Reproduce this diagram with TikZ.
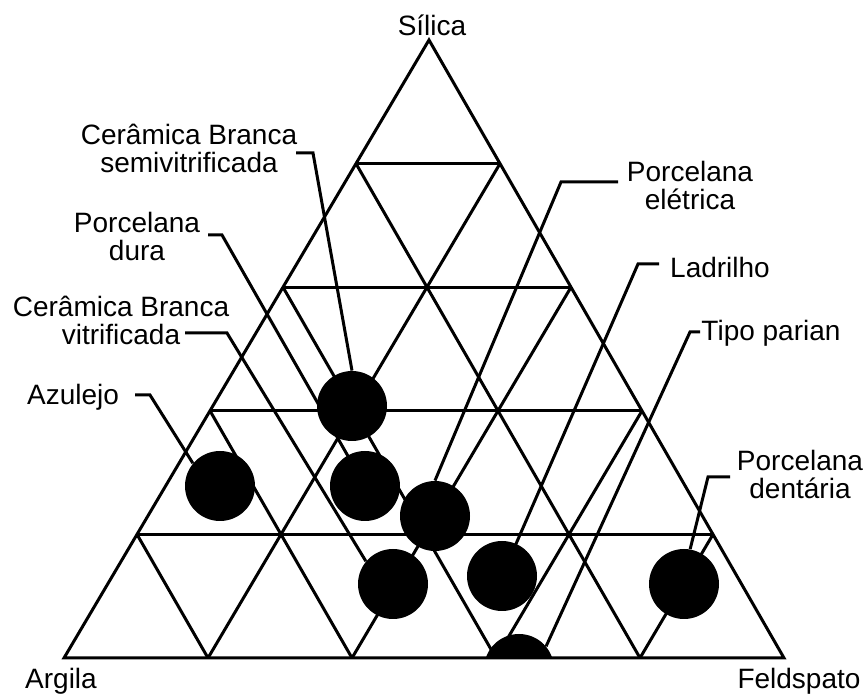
\documentclass[tikz,border=0pt]{standalone}
\usepackage{fontspec}
\setmainfont{Liberation Sans}
\begin{document}
\begin{tikzpicture}[x=0.5pt,y=-0.5pt,
  grid/.style={line width=1.5pt},
  leader/.style={line width=1.5pt},
  dot/.style={circle,fill=black,minimum size=35pt,inner sep=0pt},
  lbl/.style={align=center,inner sep=0pt,font=\fontsize{14}{14}\selectfont}]
\useasboundingbox (0,0) rectangle (868,699);

% corners of the diagram
\coordinate (a) at (64,658);
\coordinate (b) at (784,658);
\coordinate (c) at (429,40);

% points on the sides
\coordinate (l1) at (137,534.4);
\coordinate (l2) at (210,410.8);
\coordinate (l3) at (283,287.2);
\coordinate (l4) at (356,163.6);
\coordinate (r1) at (713,534.4);
\coordinate (r2) at (642,410.8);
\coordinate (r3) at (571,287.2);
\coordinate (r4) at (500,163.6);
\coordinate (b1) at (208,658);
\coordinate (b2) at (352,658);
\coordinate (b3) at (496,658);
\coordinate (b4) at (640,658);

\draw[grid] (a) -- (b) -- (c) -- cycle;

\draw[grid] (l1) -- (r1);
\draw[grid] (l2) -- (r2);
\draw[grid] (l3) -- (r3);
\draw[grid] (l4) -- (r4);

\draw[grid] (l1) -- (b1);
\draw[grid] (l2) -- (b2);
\draw[grid] (l3) -- (b3);
\draw[grid] (l4) -- (b4);

\draw[grid] (r1) -- (b4);
\draw[grid] (r2) -- (b3);
\draw[grid] (r3) -- (b2);
\draw[grid] (r4) -- (b1);

% corner labels
\node[lbl] (silica) at (432,25) {Sílica};
\node[lbl] (argila) at (61,681) {Argila};
\node[lbl] (feldspato) at (799,681) {Feldspato};

% compositions
\node[dot] (semi) at (352,406) {};
\node[dot] (azulejo) at (220,486) {};
\node[dot] (dura) at (365,486) {};
\node[dot] (eletrica) at (435,516) {};
\node[dot] (vitri) at (393,584) {};
\node[dot] (ladrilho) at (502,576) {};
\node[dot] (dentaria) at (684,584) {};
\begin{scope}
\clip (0,0) rectangle (868,658);
\node[dot] (parian) at (519,669) {};
\end{scope}

\node[lbl] (lsemi) at (189,148) {Cerâmica Branca\\semivitrificada};
\node[lbl] (ldura) at (137,236) {Porcelana\\dura};
\node[lbl] (lvitri) at (121,320) {Cerâmica Branca\\vitrificada};
\node[lbl] (lazulejo) at (73,397) {Azulejo};
\node[lbl] (leletrica) at (690,185) {Porcelana\\elétrica};
\node[lbl] (lladrilho) at (720,267) {Ladrilho};
\node[lbl] (lparian) at (771,333) {Tipo parian};
\node[lbl] (ldentaria) at (800,474) {Porcelana\\dentária};

% leader lines
\coordinate (semi-a) at (296,153);
\coordinate (semi-b) at (313,153);
\coordinate (dura-a) at (208,235);
\coordinate (dura-b) at (222,235);
\coordinate (vitri-a) at (185,333);
\coordinate (vitri-b) at (227,333);
\coordinate (azulejo-a) at (135,395);
\coordinate (azulejo-b) at (150,395);
\coordinate (eletrica-a) at (618,182);
\coordinate (eletrica-b) at (561,182);
\coordinate (ladrilho-a) at (659,264);
\coordinate (ladrilho-b) at (638,264);
\coordinate (parian-a) at (700,332);
\coordinate (parian-b) at (690,332);
\coordinate (dentaria-a) at (730,477);
\coordinate (dentaria-b) at (708,477);

\draw[leader] (semi-a) -- (semi-b) -- (semi.north);
\draw[leader] (dura-a) -- (dura-b) -- (dura.center);
\draw[leader] (vitri-a) -- (vitri-b) -- (vitri.140);
\draw[leader] (azulejo-a) -- (azulejo-b) -- (azulejo.140);
\draw[leader] (eletrica-a) -- (eletrica-b) -- (eletrica.north);
\draw[leader] (ladrilho-a) -- (ladrilho-b) -- (ladrilho.center);
\draw[leader] (parian-a) -- (parian-b) -- (parian.40);
\draw[leader] (dentaria-a) -- (dentaria-b) -- (dentaria.80);
\end{tikzpicture}
\end{document}
